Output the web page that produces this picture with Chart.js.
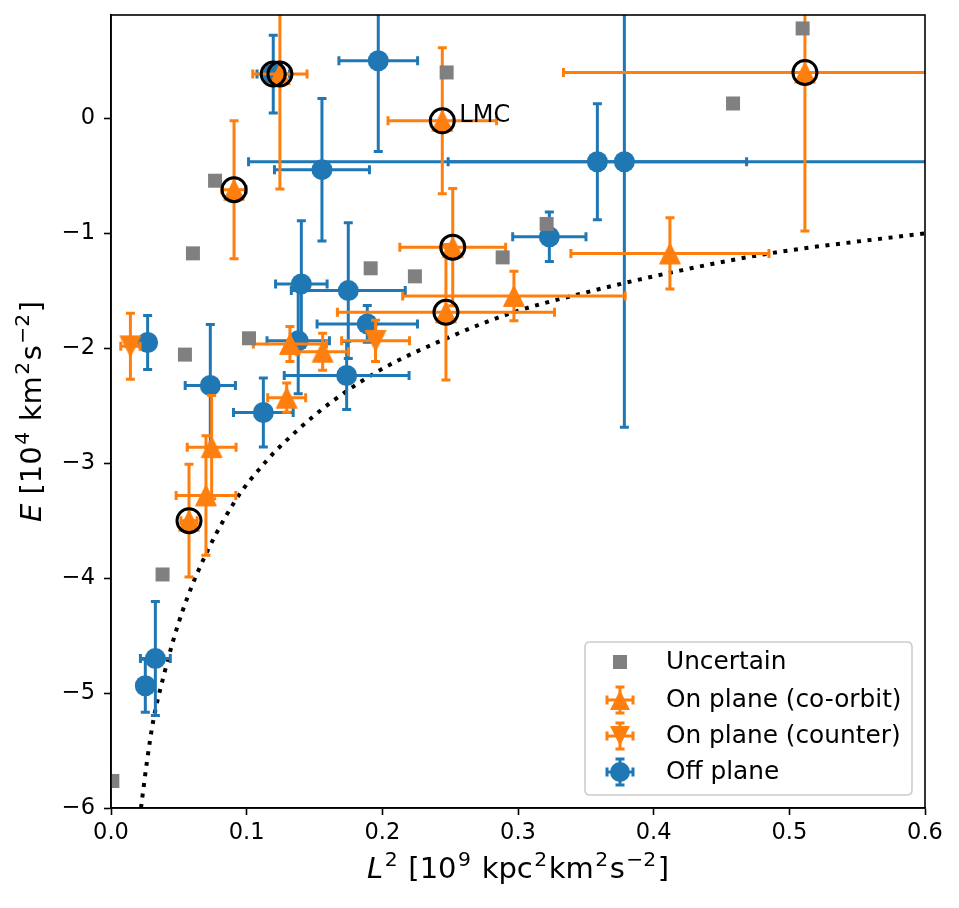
<!DOCTYPE html>
<html><head><meta charset="utf-8">
<script src="https://cdn.jsdelivr.net/npm/chart.js@4.4.1/dist/chart.umd.min.js"></script>
<style>html,body{margin:0;padding:0;background:#fff;} #wrap{width:959px;height:908px;position:relative;}</style>
</head><body><div id="wrap"><canvas id="c" width="959" height="908" style="width:959px;height:908px;display:block;"></canvas></div>
<script>
const FONT = "'DejaVu Sans', sans-serif";
const xTicks = [0, 0.1, 0.2, 0.3, 0.4, 0.5, 0.6];
const yTicks = [-6, -5, -4, -3, -2, -1, 0];
const legendLabels = ['Uncertain', 'On plane (co-orbit)', 'On plane (counter)', 'Off plane'];
// axis titles: [text, style] with i = italic, n = normal, s = superscript
const xTitle = [['L', 'i'], ['2', 's'], [' [10', 'n'], ['9', 's'], [' kpc', 'n'], ['2', 's'], ['km', 'n'], ['2', 's'], ['s', 'n'], ['\u22122', 's'], [']', 'n']];
const yTitle = [['E', 'i'], [' [10', 'n'], ['4', 's'], [' km', 'n'], ['2', 's'], ['s', 'n'], ['\u22122', 's'], [']', 'n']];

const uncertainX = [0.001, 0.038, 0.0545, 0.0604, 0.0767, 0.1017, 0.1914, 0.224, 0.2474, 0.2887, 0.3211, 0.4585, 0.5098];
const uncertainY = [-5.765, -3.968, -2.055, -1.174, -0.542, -1.913, -1.304, -1.374, 0.40, -1.209, -0.918, 0.13, 0.783];

const coX = [0.1245, 0.0907, 0.2442, 0.2519, 0.2469, 0.297, 0.412, 0.5115, 0.1319, 0.156, 0.1295, 0.0742, 0.070, 0.0575];
const coY = [0.386, -0.62, -0.02, -1.12, -1.687, -1.545, -1.175, 0.40, -1.963, -2.03, -2.43, -2.86, -3.28, -3.50];
const coXErr = [0.02, 0.009, 0.04, 0.039, 0.08, 0.082, 0.073, 0.178, 0.027, 0.019, 0.014, 0.018, 0.022, 0.006];
const coYErr = [1.0, 0.60, 0.635, 0.51, 0.59, 0.215, 0.31, 1.38, 0.152, 0.16, 0.127, 0.45, 0.52, 0.49];

const ctrX = [0.0143, 0.195];
const ctrY = [-1.983, -1.935];
const ctrXErr = [0.0071, 0.025];
const ctrYErr = [0.287, 0.18];

const offX = [0.1196, 0.197, 0.1555, 0.3585, 0.3784, 0.3231, 0.1403, 0.138, 0.1749, 0.1889, 0.1737, 0.027, 0.0732, 0.1123, 0.0327, 0.0253];
const offY = [0.386, 0.502, -0.446, -0.377, -0.377, -1.03, -1.44, -1.935, -1.498, -1.788, -2.237, -1.95, -2.324, -2.559, -4.70, -4.936];
const offXErr = [0.012, 0.029, 0.035, 0.11, 0.277, 0.027, 0.019, 0.023, 0.042, 0.037, 0.046, 0.004, 0.0185, 0.022, 0.011, 0.003];
const offYErr = [0.338, 0.79, 0.62, 0.505, 2.31, 0.215, 0.55, 0.46, 0.59, 0.16, 0.295, 0.235, 0.53, 0.30, 0.496, 0.23];

const highlightX = [0.1196, 0.1245, 0.0907, 0.2442, 0.2519, 0.2469, 0.5115, 0.0575];
const highlightY = [0.386, 0.386, -0.62, -0.02, -1.12, -1.687, 0.40, -3.50];

const curveX = [0.0221, 0.0263, 0.0312, 0.0386, 0.0496, 0.0639, 0.0902, 0.1148, 0.138, 0.1639, 0.1983, 0.2474, 0.2966, 0.3457, 0.4194, 0.4857, 0.6];
const curveY = [-6.0, -5.614, -5.237, -4.861, -4.397, -3.948, -3.353, -2.977, -2.707, -2.455, -2.19, -1.913, -1.687, -1.527, -1.324, -1.174, -1.0];

const lmcIndex = 2;
const lmcText = 'LMC';

const BLUE = '#1f77b4', ORANGE = '#ff7f0e', GRAY = '#808080';

function pts(xs, ys) { return xs.map((x, i) => ({x: x, y: ys[i]})); }

function triPath(ctx, cx, cy, h, up) {
  ctx.beginPath();
  if (up) { ctx.moveTo(cx, cy - h); ctx.lineTo(cx - h, cy + h); ctx.lineTo(cx + h, cy + h); }
  else { ctx.moveTo(cx, cy + h); ctx.lineTo(cx - h, cy - h); ctx.lineTo(cx + h, cy - h); }
  ctx.closePath();
}
function triCanvas(color, up) {
  const s = 26, c = document.createElement('canvas');
  c.width = s; c.height = s;
  const g = c.getContext('2d');
  g.fillStyle = color; g.strokeStyle = color; g.lineWidth = 1; g.lineJoin = 'miter';
  triPath(g, s / 2, s / 2, 10.4, up);
  g.fill(); g.stroke();
  return c;
}
const upTri = triCanvas(ORANGE, true);
const downTri = triCanvas(ORANGE, false);

const CAP = 4.5, ELW = 3;
function drawErr(ctx, px, py, x0, x1, y0, y1, color) {
  ctx.strokeStyle = color; ctx.lineWidth = ELW; ctx.lineCap = 'butt';
  ctx.beginPath();
  ctx.moveTo(px, y0); ctx.lineTo(px, y1);
  ctx.moveTo(x0, py); ctx.lineTo(x1, py);
  ctx.moveTo(px - CAP, y0); ctx.lineTo(px + CAP, y0);
  ctx.moveTo(px - CAP, y1); ctx.lineTo(px + CAP, y1);
  ctx.moveTo(x0, py - CAP); ctx.lineTo(x0, py + CAP);
  ctx.moveTo(x1, py - CAP); ctx.lineTo(x1, py + CAP);
  ctx.stroke();
}

const TITLE_SIZE = 29;
function segFont(st) {
  if (st === 'i') return 'italic ' + TITLE_SIZE + 'px ' + FONT;
  if (st === 's') return (TITLE_SIZE * 0.7).toFixed(2) + 'px ' + FONT;
  return TITLE_SIZE + 'px ' + FONT;
}
function drawRich(ctx, segs, cx, baseY, rot) {
  ctx.save();
  ctx.translate(cx, baseY);
  if (rot) ctx.rotate(rot);
  ctx.fillStyle = '#000'; ctx.textBaseline = 'alphabetic'; ctx.textAlign = 'left';
  const gap = 1.5;
  let w = 0;
  segs.forEach(s => { ctx.font = segFont(s[1]); w += ctx.measureText(s[0]).width + (s[1] === 's' ? gap * 2 : 0); });
  let x = -w / 2;
  segs.forEach(s => {
    ctx.font = segFont(s[1]);
    if (s[1] === 's') { x += gap; ctx.fillText(s[0], x, -TITLE_SIZE * 0.42); x += ctx.measureText(s[0]).width + gap; }
    else { ctx.fillText(s[0], x, 0); x += ctx.measureText(s[0]).width; }
  });
  ctx.restore();
}

const errorBarPlugin = {
  id: 'errorBars',
  beforeDatasetDraw(chart, args) {
    const ds = chart.data.datasets[args.index];
    if (!ds.errX) return;
    const ctx = chart.ctx, a = chart.chartArea, xs = chart.scales.x, ys = chart.scales.y;
    ctx.save();
    ctx.beginPath(); ctx.rect(a.left, a.top, a.right - a.left, a.bottom - a.top); ctx.clip();
    ds.data.forEach((p, i) => {
      const px = xs.getPixelForValue(p.x), py = ys.getPixelForValue(p.y);
      drawErr(ctx, px, py,
        xs.getPixelForValue(p.x - ds.errX[i]), xs.getPixelForValue(p.x + ds.errX[i]),
        ys.getPixelForValue(p.y - ds.errY[i]), ys.getPixelForValue(p.y + ds.errY[i]), ds.errColor);
    });
    ctx.restore();
  },
  beforeDraw(chart) {
    const ctx = chart.ctx;
    ctx.save(); ctx.fillStyle = '#fff'; ctx.fillRect(0, 0, chart.width, chart.height); ctx.restore();
  },
  afterDatasetsDraw(chart) {
    const ctx = chart.ctx, a = chart.chartArea, xs = chart.scales.x, ys = chart.scales.y;
    ctx.save();
    ctx.font = '24px ' + FONT; ctx.fillStyle = '#000'; ctx.textBaseline = 'alphabetic'; ctx.textAlign = 'left';
    ctx.fillText(lmcText, xs.getPixelForValue(coX[lmcIndex]) + 17, ys.getPixelForValue(coY[lmcIndex]) + 1);
    ctx.restore();
    ctx.save();
    ctx.strokeStyle = '#000'; ctx.lineWidth = 1.6;
    ctx.strokeRect(a.left, a.top, a.right - a.left, a.bottom - a.top);
    ctx.restore();
    // axis titles
    drawRich(ctx, xTitle, (a.left + a.right) / 2, 878, 0);
    drawRich(ctx, yTitle, 41, (a.top + a.bottom) / 2, -Math.PI / 2);
    // legend
    const L = 585, T = 642, R = 912, B = 795, rad = 5;
    ctx.save();
    ctx.beginPath();
    ctx.moveTo(L + rad, T); ctx.lineTo(R - rad, T); ctx.quadraticCurveTo(R, T, R, T + rad);
    ctx.lineTo(R, B - rad); ctx.quadraticCurveTo(R, B, R - rad, B);
    ctx.lineTo(L + rad, B); ctx.quadraticCurveTo(L, B, L, B - rad);
    ctx.lineTo(L, T + rad); ctx.quadraticCurveTo(L, T, L + rad, T);
    ctx.closePath();
    ctx.fillStyle = 'rgba(255,255,255,0.8)'; ctx.fill();
    ctx.strokeStyle = '#cccccc'; ctx.lineWidth = 1.6; ctx.stroke();
    const mx = 620, tx = 666, rows = [662, 700, 736, 772];
    ctx.fillStyle = GRAY; ctx.fillRect(mx - 7, rows[0] - 7, 14, 14);
    const eb = 13;
    [[ORANGE, 'up'], [ORANGE, 'down'], [BLUE, 'circ']].forEach((e, k) => {
      const cy = rows[k + 1];
      drawErr(ctx, mx, cy, mx - eb, mx + eb, cy - eb, cy + eb, e[0]);
      ctx.fillStyle = e[0];
      if (e[1] === 'circ') { ctx.beginPath(); ctx.arc(mx, cy, 10, 0, Math.PI * 2); ctx.fill(); }
      else { triPath(ctx, mx, cy, 10, e[1] === 'up'); ctx.fill(); }
    });
    ctx.font = '24.8px ' + FONT; ctx.fillStyle = '#000'; ctx.textBaseline = 'middle'; ctx.textAlign = 'left';
    legendLabels.forEach((t, k) => ctx.fillText(t, tx, rows[k] + 1));
    ctx.restore();
  }
};

const tickFont = {family: FONT, size: 22.5};
const fmtY = v => (v < 0 ? '\u2212' + Math.abs(v) : String(v));
const noPad = s => { s.paddingTop = 0; s.paddingBottom = 0; s.paddingLeft = 0; s.paddingRight = 0; };

new Chart(document.getElementById('c'), {
  type: 'scatter',
  data: {
    datasets: [
      {label: 'highlight', data: pts(highlightX, highlightY), pointStyle: 'circle', pointRadius: 12, pointHoverRadius: 12,
        backgroundColor: 'rgba(0,0,0,0)', borderColor: '#000', borderWidth: 3, order: 1, clip: 0},
      {label: legendLabels[0], data: pts(uncertainX, uncertainY), pointStyle: 'rect', pointRadius: 9.9, pointHoverRadius: 9.9,
        backgroundColor: GRAY, borderWidth: 0, order: 2, clip: 0},
      {label: legendLabels[2], data: pts(ctrX, ctrY), errX: ctrXErr, errY: ctrYErr, errColor: ORANGE, pointStyle: downTri,
        pointRadius: 10, order: 3, clip: 0},
      {label: legendLabels[1], data: pts(coX, coY), errX: coXErr, errY: coYErr, errColor: ORANGE, pointStyle: upTri,
        pointRadius: 10, order: 4, clip: 0},
      {label: legendLabels[3], data: pts(offX, offY), errX: offXErr, errY: offYErr, errColor: BLUE, pointStyle: 'circle',
        pointRadius: 10.5, pointHoverRadius: 10.5, backgroundColor: BLUE, borderWidth: 0, order: 5, clip: 0},
      {type: 'line', label: 'curve', data: pts(curveX, curveY), borderColor: '#000', borderWidth: 4, borderDash: [4, 6.6],
        borderCapStyle: 'butt', pointRadius: 0, fill: false, cubicInterpolationMode: 'monotone', order: 6, clip: 0}
    ]
  },
  options: {
    responsive: false,
    animation: false,
    devicePixelRatio: 1,
    events: [],
    layout: {padding: {top: 14, right: 34, left: 0, bottom: 0}},
    plugins: {legend: {display: false}, tooltip: {enabled: false}},
    scales: {
      x: {
        type: 'linear', min: 0, max: 0.6,
        afterBuildTicks: s => { s.ticks = xTicks.map(v => ({value: v})); },
        afterFit: s => { s.height = 100; noPad(s); },
        ticks: {callback: v => v.toFixed(1), font: tickFont, color: '#000', padding: 5, maxRotation: 0, autoSkip: false},
        grid: {drawOnChartArea: false, drawTicks: true, tickLength: 7, tickWidth: 1.6, tickColor: '#000'},
        border: {display: true, color: '#000', width: 1.6},
        title: {display: false}
      },
      y: {
        type: 'linear', min: -6, max: 0.9,
        afterBuildTicks: s => { s.ticks = yTicks.map(v => ({value: v})); },
        afterFit: s => { s.width = 111; noPad(s); },
        ticks: {callback: fmtY, font: tickFont, color: '#000', padding: 9, autoSkip: false},
        grid: {drawOnChartArea: false, drawTicks: true, tickLength: 7, tickWidth: 1.6, tickColor: '#000'},
        border: {display: true, color: '#000', width: 1.6},
        title: {display: false}
      }
    }
  },
  plugins: [errorBarPlugin]
});
</script></body></html>
